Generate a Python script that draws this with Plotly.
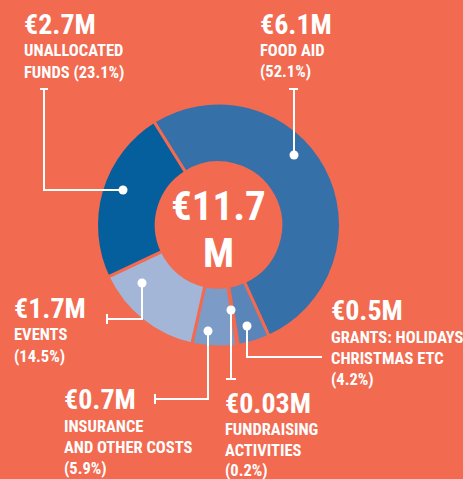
import plotly.graph_objects as go

# ---- data ----
categories = ["Food aid", "Grants: holidays Christmas etc", "Fundraising activities",
              "Insurance and other costs", "Events", "Unallocated funds"]
percent = [52.1, 4.2, 0.2, 5.9, 14.5, 23.1]
amounts = ["€6.1M", "€0.5M", "€0.03M", "€0.7M", "€1.7M", "€2.7M"]
label_lines = [
    ["FOOD AID", "(52.1%)"],
    ["GRANTS: HOLIDAYS", "CHRISTMAS ETC", "(4.2%)"],
    ["FUNDRAISING", "ACTIVITIES", "(0.2%)"],
    ["INSURANCE", "AND OTHER COSTS", "(5.9%)"],
    ["EVENTS", "(14.5%)"],
    ["UNALLOCATED", "FUNDS (23.1%)"],
]
total_lines = ["€11.7", "M"]

# ---- style ----
W, H = 463, 479
BG = "#F26A50"
colors = ["#3670A8", "#5A85B8", "#6E93C2", "#7D9BC7", "#A3B6D8", "#055F9C"]
FONT = "Roboto Condensed, Open Sans Condensed, sans-serif"

def px(x):
    return x / W

def py(y):
    return 1 - y / H

cx, cy, R = 218.5, 225, 122

fig = go.Figure(go.Pie(
    labels=categories, values=percent, sort=False, direction="clockwise",
    rotation=-32, hole=0.51, textinfo="none",
    marker=dict(colors=colors, line=dict(color=BG, width=3)),
    domain=dict(x=[px(cx - R), px(cx + R)], y=[py(cy + R), py(cy - R)]),
    showlegend=False,
))

# label layout: (left x, cap-centre y of value, y of each line)
label_pos = [
    (260, 24, [50, 71]),
    (331, 310, [337.5, 358, 379.5]),
    (225, 403.5, [429, 450, 470]),
    (64, 399.5, [426, 447, 468]),
    (14, 308.5, [334, 356]),
    (24, 24, [50, 72]),
]

annotations = []
for amt, lines, (lx, vy, ly) in zip(amounts, label_lines, label_pos):
    annotations.append(dict(x=px(lx - 2), y=py(vy), xref="paper", yref="paper",
                            text=amt, showarrow=False, xanchor="left", yanchor="middle",
                            font=dict(family=FONT, size=28, color="white", weight="bold")))
    for t, yy in zip(lines, ly):
        annotations.append(dict(x=px(lx - 2), y=py(yy), xref="paper", yref="paper",
                                text=t, showarrow=False, xanchor="left", yanchor="middle",
                                font=dict(family=FONT, size=16.5, color="white", weight="bold")))

for t, yy in zip(total_lines, [205.5, 252.5]):
    annotations.append(dict(x=px(cx), y=py(yy), xref="paper", yref="paper", text=t,
                            showarrow=False, xanchor="center", yanchor="middle",
                            font=dict(family=FONT, size=41, color="white", weight="bold")))

# leader lines (pixel paths) and dots
leaders = [
    [(289, 89), (298, 89), None, (294, 89), (294, 155)],
    [(247, 326), (247, 357), (322, 357)],
    [(226, 379), (236, 379), None, (231, 379), (231, 310)],
    [(155, 394), (155, 404), None, (155, 399), (208, 399), (208, 331)],
    [(107, 314), (107, 324), None, (107, 319), (142, 319), (142, 283)],
    [(40, 89), (48, 89), None, (44, 89), (44, 190), (123, 190)],
]
dots = [(294, 155), (247, 326), (231, 310), (208, 331), (142, 283), (123, 190)]

shapes = []
for pts in leaders:
    segs, cur = [], []
    for p in pts:
        if p is None:
            segs.append(cur); cur = []
        else:
            cur.append(p)
    segs.append(cur)
    for seg in segs:
        path = "M " + " L ".join(f"{px(x):.5f},{py(y):.5f}" for x, y in seg)
        shapes.append(dict(type="path", path=path, xref="paper", yref="paper",
                           line=dict(color="white", width=2)))
for x, y in dots:
    shapes.append(dict(type="circle", xref="paper", yref="paper",
                       x0=px(x - 4.5), x1=px(x + 4.5), y0=py(y + 4.5), y1=py(y - 4.5),
                       fillcolor="white", line=dict(width=0)))

fig.update_layout(width=W, height=H, margin=dict(l=0, r=0, t=0, b=0),
                  paper_bgcolor=BG, plot_bgcolor=BG,
                  annotations=annotations, shapes=shapes)
fig.write_html("out.html", config=dict(displayModeBar=False),
               post_script="document.body.style.margin='0';")
